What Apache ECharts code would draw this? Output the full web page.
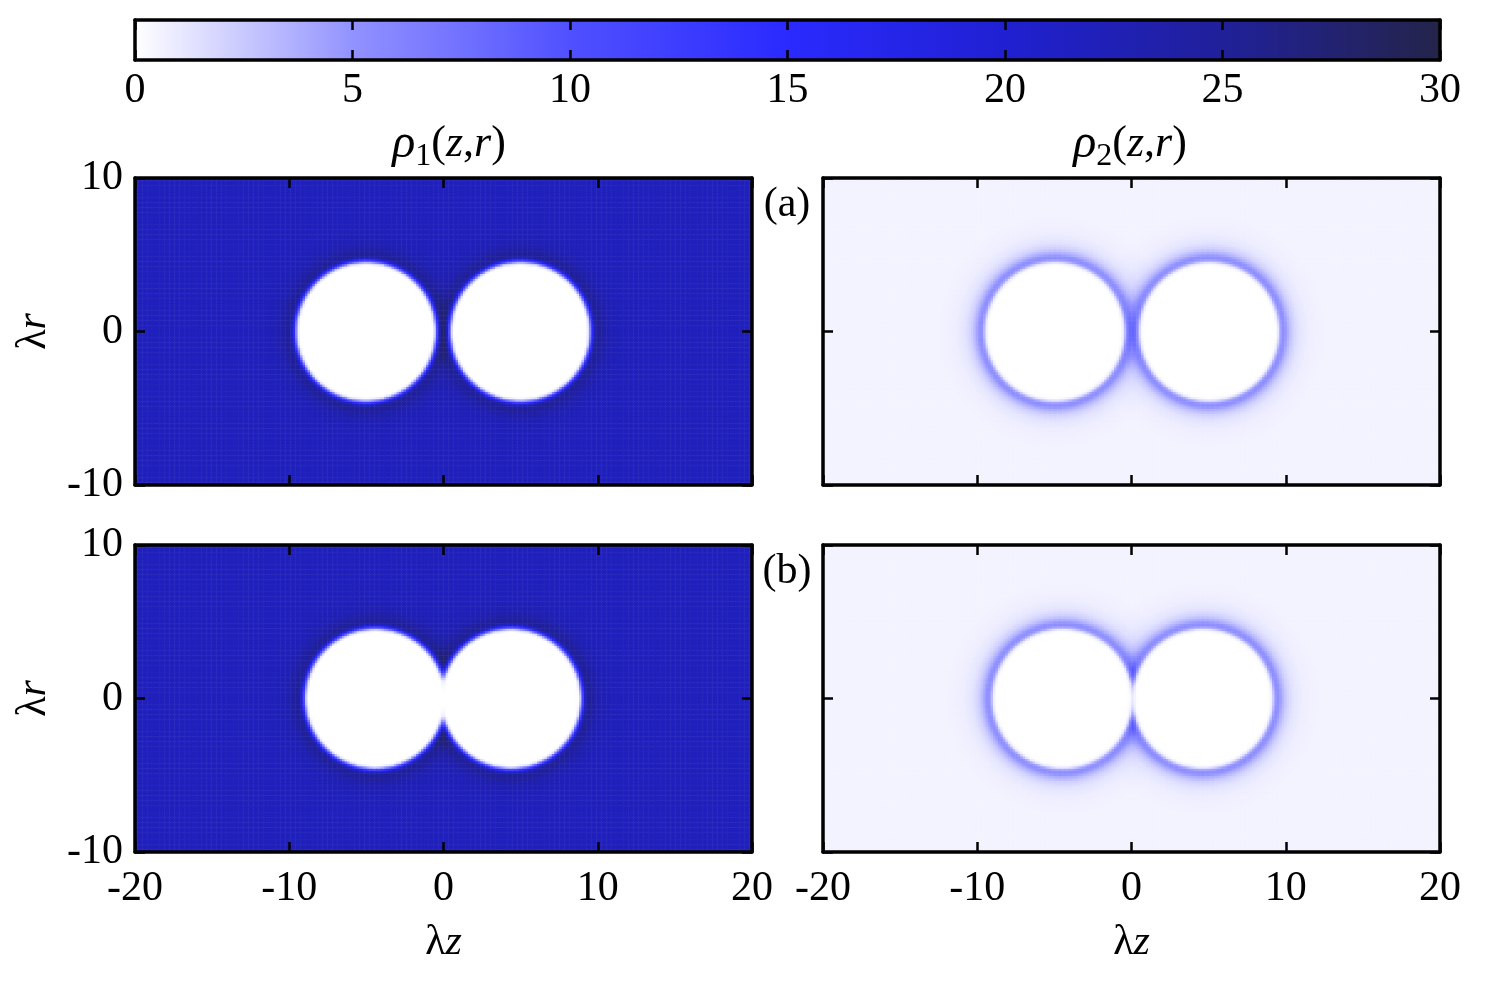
<!DOCTYPE html>
<html>
<head>
<meta charset="utf-8">
<script src="https://cdn.jsdelivr.net/npm/echarts@6/dist/echarts.min.js"></script>
<style>
  html, body { margin: 0; background: #fff; }
  #chart { width: 1500px; height: 996px; }
</style>
</head>
<body>
<div id="chart"></div>
<script>
// axis ranges and ticks
const zRange = [-20, 20];
const rRange = [-10, 10];
const zTicks = [-20, -10, 0, 10, 20];
const rTicks = [-10, 0, 10];
const cbTicks = [0, 5, 10, 15, 20, 25, 30];

// colour scale (0 .. 30, evenly spaced stops)
const paletteColors = ['#ffffff', '#9292ff', '#5050ff', '#2a2aff', '#2020d2', '#20209a', '#24244a'];

// panels: (a) rho1, (a) rho2, (b) rho1, (b) rho2
const panelNames = ['(a)', '(b)'];
const panelCentersZ = [[-5.0, 5.0], [-4.95, 5.05], [-4.4, 4.4], [-4.45, 4.65]];
const panelRadius = [4.6, 4.62, 4.62, 4.64];
const panelBackground = [22, 0.35, 22, 0.35];

// radial profile across a circle edge (distance from edge)
const edgeD = [-0.5, -0.3, -0.15, 0, 0.15, 0.3, 0.5, 0.8, 1.2, 1.8, 3.0];
const rampFrac = [0, 0, 0.08, 0.45, 0.85, 1, 1, 1, 1, 1, 1];
const rho1Halo = [0, 0, 0, 0, 1, 2.5, 3, 1.8, 0.7, 0.2, 0];
const rho2Halo = [0, 0.1, 1.0, 3.8, 5.0, 4.6, 3.2, 1.7, 0.8, 0.35, 0.1];
const panelHalo = [rho1Halo, rho2Halo, rho1Halo, rho2Halo];

const cell = 0.16;
const NZ = Math.round((zRange[1] - zRange[0]) / cell);
const NR = Math.round((rRange[1] - rRange[0]) / cell);
const zCells = [], rCells = [];
for (let i = 0; i < NZ; i++) zCells.push(+(zRange[0] + (i + 0.5) * cell).toFixed(3));
for (let j = 0; j < NR; j++) rCells.push(+(rRange[0] + (j + 0.5) * cell).toFixed(3));

function interp(xs, ys, x) {
  if (x <= xs[0]) return ys[0];
  if (x >= xs[xs.length - 1]) return ys[ys.length - 1];
  let k = 1;
  while (xs[k] < x) k++;
  const t = (x - xs[k - 1]) / (xs[k] - xs[k - 1]);
  return ys[k - 1] + t * (ys[k] - ys[k - 1]);
}

function panelData(p) {
  const halo = panelHalo[p];
  const data = [];
  for (let i = 0; i < NZ; i++) {
    for (let j = 0; j < NR; j++) {
      const z = zCells[i], r = rCells[j];
      const ds = panelCentersZ[p].map(c => Math.hypot(z - c, r) - panelRadius[p]);
      const ramps = ds.map(d => interp(edgeD, rampFrac, d));
      let v = panelBackground[p] * ramps.reduce((a, b) => a * b, 1);
      ds.forEach((d, c) => {
        let h = interp(edgeD, halo, d);
        ramps.forEach((rp, k) => { if (k !== c) h *= rp; });
        v += h;
      });
      data.push([i, j, +v.toFixed(2)]);
    }
  }
  return data;
}

const font = 'Liberation Serif';
const fs = 42;
const black = '#000';

const grids = [
  { left: 135, top: 178, width: 617, height: 307 },
  { left: 823, top: 178, width: 617, height: 307 },
  { left: 135, top: 545, width: 617, height: 307 },
  { left: 823, top: 545, width: 617, height: 307 },
  { left: 135, top: 20, width: 1305, height: 40 }   // colour bar
];

const frameLine = { show: true, onZero: false, lineStyle: { color: black, width: 3.5 } };
const tickIn = { show: true, inside: true, length: 10, lineStyle: { color: black, width: 2.5 } };
const labelStyle = { fontSize: fs, fontFamily: font, color: black };

const xAxes = [], yAxes = [], series = [];
for (let p = 0; p < 4; p++) {
  const bottomRow = p >= 2;
  const leftCol = p % 2 === 0;
  xAxes.push({ type: 'category', gridIndex: p, data: zCells, show: false });
  xAxes.push({
    type: 'value', gridIndex: p, position: 'bottom', min: zRange[0], max: zRange[1], interval: 10, z: 10,
    axisLine: frameLine, axisTick: tickIn, splitLine: { show: false },
    axisLabel: { show: bottomRow, margin: 16, ...labelStyle },
    name: bottomRow ? '{g|λ}{i|z}' : '', nameLocation: 'middle', nameGap: 70,
    nameTextStyle: { ...labelStyle, rich: { g: { ...labelStyle }, i: { ...labelStyle, fontStyle: 'italic' } } }
  });
  xAxes.push({
    type: 'value', gridIndex: p, position: 'top', min: zRange[0], max: zRange[1], interval: 10, z: 10,
    axisLine: frameLine, axisTick: tickIn, splitLine: { show: false }, axisLabel: { show: false }
  });
  yAxes.push({ type: 'category', gridIndex: p, data: rCells, show: false });
  yAxes.push({
    type: 'value', gridIndex: p, position: 'left', min: rRange[0], max: rRange[1], interval: 10, z: 10,
    axisLine: frameLine, axisTick: tickIn, splitLine: { show: false },
    axisLabel: { show: leftCol, margin: 12, ...labelStyle },
    name: leftCol ? '{g|λ}{i|r}' : '', nameLocation: 'middle', nameGap: 80, nameRotate: 90,
    nameTextStyle: { ...labelStyle, rich: { g: { ...labelStyle }, i: { ...labelStyle, fontStyle: 'italic' } } }
  });
  yAxes.push({
    type: 'value', gridIndex: p, position: 'right', min: rRange[0], max: rRange[1], interval: 10, z: 10,
    axisLine: frameLine, axisTick: tickIn, splitLine: { show: false }, axisLabel: { show: false }
  });
  series.push({
    type: 'heatmap',
    xAxisIndex: 3 * p, yAxisIndex: 3 * p,
    data: panelData(p),
    progressive: 0,
    itemStyle: { borderWidth: 0 },
    emphasis: { disabled: true },
    silent: true
  });
}

// colour bar axes
const cbTick = { show: true, inside: true, length: 10, lineStyle: { color: black, width: 2.5 } };
xAxes.push({
  type: 'value', gridIndex: 4, position: 'bottom', min: cbTicks[0], max: cbTicks[cbTicks.length - 1], interval: 5, z: 10,
  axisLine: frameLine, axisTick: cbTick, splitLine: { show: false },
  axisLabel: { margin: 10, ...labelStyle }
});
xAxes.push({
  type: 'value', gridIndex: 4, position: 'top', min: cbTicks[0], max: cbTicks[cbTicks.length - 1], interval: 5, z: 10,
  axisLine: frameLine, axisTick: cbTick, splitLine: { show: false }, axisLabel: { show: false }
});
yAxes.push({ type: 'value', gridIndex: 4, position: 'left', min: 0, max: 1, z: 10,
  axisLine: frameLine, axisTick: { show: false }, splitLine: { show: false }, axisLabel: { show: false } });
yAxes.push({ type: 'value', gridIndex: 4, position: 'right', min: 0, max: 1, z: 10,
  axisLine: frameLine, axisTick: { show: false }, splitLine: { show: false }, axisLabel: { show: false } });

const cb = grids[4];
const rhoRich = {
  r: { fontSize: 48, fontFamily: font, fontStyle: 'italic', color: black },
  s: { fontSize: 32, fontFamily: font, color: black, padding: [26, 0, 0, 0] },
  n: { fontSize: 44, fontFamily: font, color: black },
  i: { fontSize: 44, fontFamily: font, fontStyle: 'italic', color: black }
};

const option = {
  animation: false,
  backgroundColor: '#fff',
  grid: grids,
  xAxis: xAxes,
  yAxis: yAxes,
  visualMap: {
    type: 'continuous', show: false, min: 0, max: 30, dimension: 2,
    seriesIndex: [0, 1, 2, 3],
    inRange: { color: paletteColors }
  },
  graphic: [
    {
      type: 'rect', z: -1,
      shape: { x: cb.left, y: cb.top, width: cb.width, height: cb.height },
      style: {
        fill: new echarts.graphic.LinearGradient(0, 0, 1, 0,
          paletteColors.map((c, k) => ({ offset: k / (paletteColors.length - 1), color: c })))
      }
    },
    {
      type: 'text', x: 449, y: 144,
      style: { text: '{r|ρ}{s|1}{n|(}{i|z}{n|,}{i|r}{n|)}', rich: rhoRich, align: 'center', verticalAlign: 'middle' }
    },
    {
      type: 'text', x: 1130, y: 144,
      style: { text: '{r|ρ}{s|2}{n|(}{i|z}{n|,}{i|r}{n|)}', rich: rhoRich, align: 'center', verticalAlign: 'middle' }
    },
    {
      type: 'text', x: 787, y: 205,
      style: { text: panelNames[0], fontSize: fs, fontFamily: font, fill: black, align: 'center', verticalAlign: 'middle' }
    },
    {
      type: 'text', x: 787, y: 572,
      style: { text: panelNames[1], fontSize: fs, fontFamily: font, fill: black, align: 'center', verticalAlign: 'middle' }
    }
  ],
  series: series
};

const chart = echarts.init(document.getElementById('chart'), null, { renderer: 'canvas' });
chart.setOption(option);
</script>
</body>
</html>
